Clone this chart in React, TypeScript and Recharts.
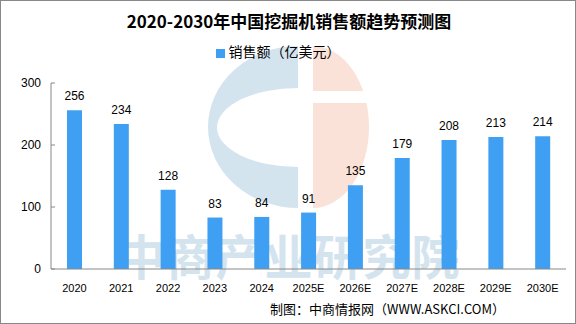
import React from 'react';
import { BarChart, Bar, XAxis, YAxis, LabelList, Legend } from 'recharts';

const years = ['2020', '2021', '2022', '2023', '2024', '2025E', '2026E', '2027E', '2028E', '2029E', '2030E'];
const sales = [256, 234, 128, 83, 84, 91, 135, 179, 208, 213, 214];
const yTicks = [0, 100, 200, 300];
const boundaryTicks = [0, 1, 2, 3, 4, 5, 6, 7, 8, 9, 10, 11];

const data = years.map((name, i) => ({ name, value: sales[i], pos: i + 0.5 }));

const W = 576;
const H = 324;
const BLUE = '#3f9ff2';
const AXIS = '#888888';
const FONT = '"Liberation Sans", "Noto Sans CJK SC", sans-serif';

// faint logo + company name behind the plot
const Watermark: React.FC = () => (
  <svg width={W} height={H} style={{ position: 'absolute', left: 0, top: 0 }}>
    <path d="M297,45 A90,81 0 0 0 297,207 Z" fill="#d3e4ee" />
    <path d="M297,87 A80,39 0 0 0 297,166 Z" fill="#ffffff" />
    <path d="M312,45 A56,81 0 0 1 312,207 Z" fill="#fae2d8" />
    <rect x={310} y={90} width={62} height={12} fill="#ffffff" />
    <text
      x={288}
      y={274}
      textAnchor="middle"
      fontSize={48}
      fontWeight="bold"
      fill="#d3e4ee"
      fontFamily='"Noto Sans CJK SC", sans-serif'
      letterSpacing={1}
    >
      中商产业研究院
    </text>
  </svg>
);

export default function App() {
  return (
    <div
      style={{
        position: 'absolute',
        left: 0,
        top: 0,
        width: W,
        height: H,
        background: '#fff',
        boxSizing: 'border-box',
        border: '1px solid #888',
        overflow: 'hidden',
      }}
    >
      <Watermark />
      <div
        style={{
          position: 'absolute',
          left: 0,
          top: 7,
          width: W,
          textAlign: 'center',
          fontFamily: '"Noto Sans CJK SC", serif',
          fontWeight: 'bold',
          fontSize: 17,
          color: '#000',
        }}
      >
        2020-2030年中国挖掘机销售额趋势预测图
      </div>
      <div style={{ position: 'absolute', left: -1, top: -1 }}>
        <BarChart width={W} height={H} data={data} margin={{ top: 83, right: 10, bottom: 24, left: 0 }}>
          <Legend
            verticalAlign="middle"
            align="center"
            iconType="square"
            iconSize={9}
            wrapperStyle={{ top: 41, fontFamily: '"Noto Sans CJK SC", sans-serif', fontSize: 14 }}
            formatter={() => <span style={{ color: '#000' }}>销售额（亿美元）</span>}
          />
          <XAxis
            xAxisId="edge"
            type="number"
            dataKey="pos"
            domain={[0, 11]}
            ticks={boundaryTicks}
            axisLine={false}
            tick={false}
            tickLine={{ stroke: AXIS }}
            tickSize={-4}
            height={1}
          />
          <XAxis
            dataKey="name"
            xAxisId="cat"
            height={30}
            axisLine={{ stroke: AXIS }}
            tickLine={false}
            tick={{ fill: '#000', fontSize: 11, fontFamily: FONT }}
            tickMargin={9}
            interval={0}
          />
          <YAxis
            width={51}
            domain={[0, 300]}
            ticks={yTicks}
            axisLine={{ stroke: AXIS }}
            tickLine={{ stroke: AXIS }}
            tickSize={-4}
            tickMargin={14}
            tick={{ fill: '#000', fontSize: 12, fontFamily: FONT }}
          />
          <Bar dataKey="value" xAxisId="cat" fill={BLUE} barSize={15} isAnimationActive={false}>
            <LabelList dataKey="value" position="top" offset={10} fill="#000" fontSize={12} fontFamily={FONT} />
          </Bar>
        </BarChart>
      </div>
      <div
        style={{
          position: 'absolute',
          right: 70,
          top: 298,
          fontFamily: '"Noto Sans CJK SC", sans-serif',
          fontSize: 13,
          color: '#000',
        }}
      >
        制图：中商情报网（WWW.ASKCI.COM）
      </div>
    </div>
  );
}
